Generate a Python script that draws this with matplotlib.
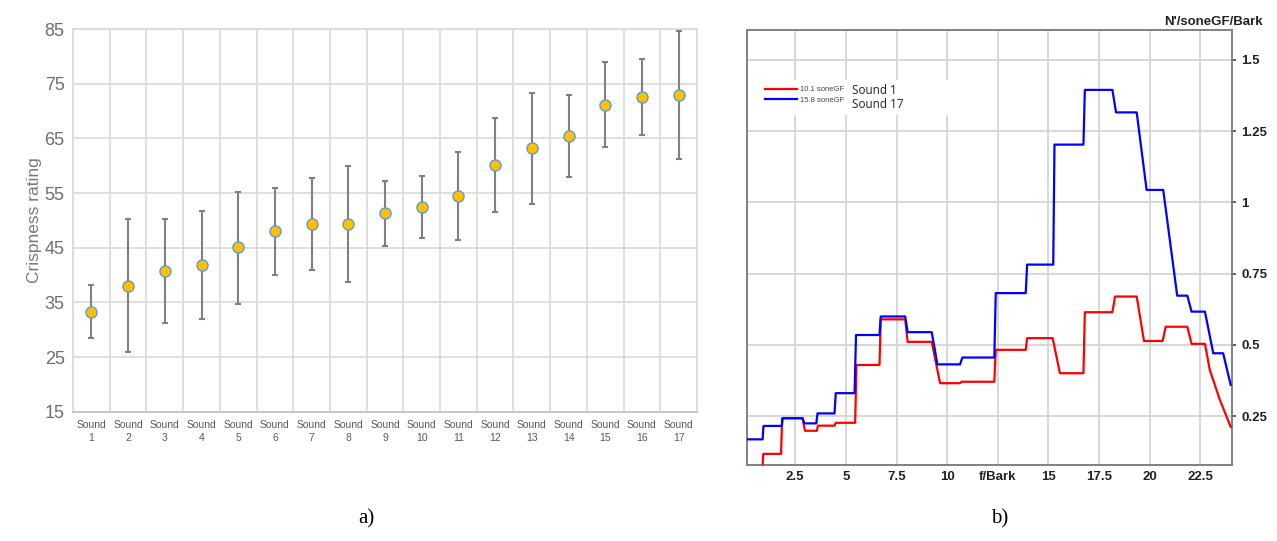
import matplotlib.pyplot as plt
import matplotlib.patches as mpatches

# Data: (a) crispness ratings with error bars
sounds = [f"Sound\n{i}" for i in range(1, 18)]
rating = [33.2, 38.0, 40.7, 41.8, 45.1, 48.1, 49.3, 49.3, 51.4,
          52.4, 54.5, 60.1, 63.2, 65.4, 71.2, 72.6, 73.0]
err_hi = [38.1, 50.2, 50.2, 51.7, 55.2, 56.0, 57.7, 59.9, 57.3,
          58.2, 62.5, 68.7, 73.4, 72.9, 79.0, 79.5, 84.6]
err_lo = [28.4, 26.0, 31.3, 31.9, 34.8, 40.1, 40.9, 38.8, 45.3,
          46.7, 46.4, 51.5, 53.0, 57.9, 63.5, 65.7, 61.3]

# Data: (b) specific loudness N' vs critical band rate
s17_bark = [0.1, 0.89, 0.93, 1.84, 1.88, 2.86, 2.95, 3.54, 3.6, 4.44, 4.5, 5.43,
            5.5, 6.66, 6.72, 7.93, 8.05, 9.24, 9.52, 10.64, 10.75, 12.33, 12.4,
            13.88, 13.95, 15.24, 15.3, 16.73, 16.8, 18.16, 18.34, 19.36, 19.85,
            20.67, 21.36, 21.86, 22.07, 22.73, 23.14, 23.63, 24.0]
s17_n = [0.169, 0.169, 0.216, 0.216, 0.243, 0.243, 0.225, 0.225, 0.260, 0.260,
         0.331, 0.331, 0.535, 0.535, 0.600, 0.600, 0.545, 0.545, 0.432, 0.432,
         0.456, 0.456, 0.682, 0.682, 0.782, 0.782, 1.203, 1.203, 1.395, 1.395,
         1.316, 1.316, 1.044, 1.044, 0.673, 0.673, 0.617, 0.617, 0.471, 0.471,
         0.360]
s1_bark = [0.89, 0.92, 1.80, 1.85, 2.86, 2.98, 3.57, 3.62, 4.44, 4.5, 5.46, 5.52,
           6.66, 6.72, 7.93, 8.05, 9.24, 9.65, 10.64, 10.7, 12.33, 12.4, 13.88,
           13.95, 15.21, 15.57, 16.73, 16.8, 18.16, 18.29, 19.36, 19.72, 20.64,
           20.79, 21.86, 22.07, 22.73, 22.97, 23.47, 24.0]
s1_n = [0.078, 0.118, 0.118, 0.243, 0.243, 0.199, 0.199, 0.217, 0.217, 0.227,
        0.227, 0.43, 0.43, 0.590, 0.590, 0.511, 0.511, 0.366, 0.366, 0.371,
        0.371, 0.483, 0.483, 0.524, 0.524, 0.401, 0.401, 0.615, 0.615, 0.670,
        0.670, 0.514, 0.514, 0.564, 0.564, 0.504, 0.504, 0.412, 0.307, 0.213]
legend_loud = ["10.1 soneGF", "15.8 soneGF"]
legend_name = ["Sound 1", "Sound 17"]

fig = plt.figure(figsize=(12.77, 5.41), dpi=100)
plt.rcParams['font.family'] = ['Liberation Sans', 'DejaVu Sans']

# ---- (a) ----
ax1 = fig.add_axes([0.0572, 0.239, 0.4886, 0.707])
x = list(range(1, 18))
yerr = [[r - lo for r, lo in zip(rating, err_lo)],
        [hi - r for r, hi in zip(rating, err_hi)]]
ax1.errorbar(x, rating, yerr=yerr, fmt='none', ecolor='#808080',
             elinewidth=1.5, capsize=2.5, capthick=1.5, zorder=2)
ax1.plot(x, rating, 'o', ms=8, mfc='#FFC000', mec='#5B9BD5', mew=1, zorder=3)
ax1.set_xlim(0.5, 17.5)
ax1.set_ylim(15, 85)
ax1.set_yticks(range(15, 86, 10))
ax1.set_xticks(x)
ax1.set_xticklabels(sounds, fontsize=7.5, color='#595959', linespacing=1.4)
ax1.set_xticks([i + 0.5 for i in range(0, 18)], minor=True)
ax1.tick_params(axis='x', which='both', length=0, pad=6)
ax1.tick_params(axis='y', length=0, labelsize=13, labelcolor='#6e6e6e', pad=6)
ax1.grid(True, axis='y', color='#d9d9d9', lw=1.2)
ax1.grid(True, axis='x', which='minor', color='#d9d9d9', lw=1.2)
ax1.set_axisbelow(True)
for s in ax1.spines.values():
    s.set_color('#d9d9d9')
    s.set_linewidth(1.2)
ax1.spines['bottom'].set_color('#bfbfbf')
ax1.set_ylabel("Crispness rating", fontsize=12.5, color='#7a7a7a', labelpad=2)

# ---- (b) ----
ax2 = fig.add_axes([0.585, 0.1405, 0.3795, 0.804])
ax2.plot(s1_bark, s1_n, color='#ff0000', lw=1.6, zorder=3)
ax2.plot(s17_bark, s17_n, color='#0000ff', lw=1.6, zorder=3)
ax2.set_xlim(0.12, 24.05)
ax2.set_ylim(0.079, 1.605)
xt = [2.5, 5, 7.5, 10, 12.5, 15, 17.5, 20, 22.5]
ax2.set_xticks(xt)
ax2.set_xticklabels(['2.5', '5', '7.5', '10', 'f/Bark', '15', '17.5', '20', '22.5'],
                    fontsize=9.5, fontweight='bold', color='#222222')
ax2.set_yticks([0.25, 0.5, 0.75, 1, 1.25, 1.5])
ax2.set_yticklabels(['0.25', '0.5', '0.75', '1', '1.25', '1.5'],
                    fontsize=9.5, fontweight='bold', color='#222222')
ax2.yaxis.tick_right()
ax2.tick_params(axis='y', length=3, width=1.2, color='#444444', pad=4)
ax2.tick_params(axis='x', length=0, pad=4)
ax2.grid(True, color='#d4d4d4', lw=1.3)
ax2.set_axisbelow(True)
for s in ax2.spines.values():
    s.set_color('#808080')
    s.set_linewidth(1.4)
ax2.text(1.065, 1.005, "N'/soneGF/Bark", transform=ax2.transAxes, ha='right',
         va='bottom', fontsize=9.5, fontweight='bold', color='#222222')

# legend area (white box over the grid)
ax2.add_patch(mpatches.Rectangle((0.027, 0.805), 0.392, 0.08, transform=ax2.transAxes,
                                 facecolor='white', edgecolor='none', zorder=1))
leg = ax2.legend(ax2.get_lines()[:2], legend_loud, loc='upper left',
                 bbox_to_anchor=(0.025, 0.884), frameon=False, fontsize=5.5,
                 handlelength=4.2, handletextpad=0.4, labelspacing=0.45,
                 borderpad=0.2)
for t in leg.get_texts():
    t.set_color('#444444')
for i, name in enumerate(legend_name):
    ax2.text(0.217, 0.862 - i * 0.034, name, transform=ax2.transAxes,
             fontsize=8.5, color='#222222', va='center', ha='left',
             family=['Open Sans', 'DejaVu Sans'])

# captions
fig.text(0.287, 0.033, "a)", fontsize=15, family='Liberation Serif', ha='center')
fig.text(0.783, 0.033, "b)", fontsize=15, family='Liberation Serif', ha='center')

fig.savefig("out.png", dpi=100)
